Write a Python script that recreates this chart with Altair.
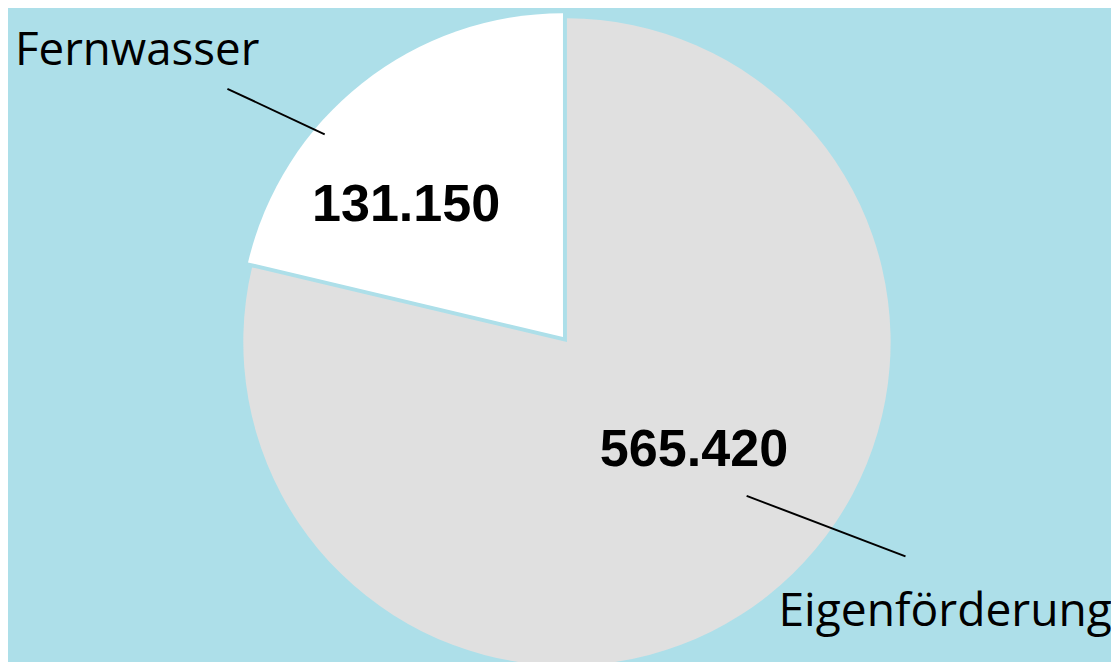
import altair as alt
import pandas as pd

categories = ["Eigenförderung", "Fernwasser"]
# slice shares as drawn in the picture (percent of the circle)
slice_shares = [78.7, 21.3]
value_labels = ["565.420", "131.150"]
colors = ["#e0e0e0", "#ffffff"]

df = pd.DataFrame({"cat": categories, "value": slice_shares, "label": value_labels, "order": [0, 1]})

base = alt.Chart(df).transform_joinaggregate(
    total="sum(value)"
).transform_window(
    cum="sum(value)", sort=[alt.SortField("order")], frame=[None, 0]
).transform_calculate(
    start="2*PI*(datum.cum - datum.value)/datum.total",
    end="2*PI*datum.cum/datum.total",
)

def slice_layer(cat, cx, cy):
    return base.transform_filter(alt.datum.cat == cat).mark_arc(radius=326).encode(
        theta=alt.Theta("start:Q", scale=None),
        theta2="end:Q",
        color=alt.Color("cat:N", scale=alt.Scale(domain=categories, range=colors), legend=None),
        x=alt.value(cx),
        y=alt.value(cy),
    )

gray = slice_layer("Eigenförderung", 563, 334)
white = slice_layer("Fernwasser", 559, 329)

def num_label(cat, x, y):
    return alt.Chart(df).transform_filter(alt.datum.cat == cat).mark_text(
        font="Liberation Sans", fontWeight="bold", fontSize=52.5, color="black",
        align="center", baseline="alphabetic"
    ).encode(text="label:N", x=alt.value(x), y=alt.value(y))

def name_label(cat, x, y, size):
    return alt.Chart(df).transform_filter(alt.datum.cat == cat).mark_text(
        font="Open Sans", fontSize=size, color="black", align="left", baseline="alphabetic"
    ).encode(text="cat:N", x=alt.value(x), y=alt.value(y))

def leader(x1, y1, x2, y2):
    return alt.Chart(df).transform_filter(alt.datum.order == 0).mark_rule(
        color="black", strokeWidth=2
    ).encode(x=alt.value(x1), y=alt.value(y1), x2=alt.value(x2), y2=alt.value(y2))

chart = alt.layer(
    gray, white,
    num_label("Fernwasser", 401, 212),
    num_label("Eigenförderung", 691, 459),
    name_label("Fernwasser", 7, 55, 46),
    name_label("Eigenförderung", 776, 620, 46.5),
    leader(221, 79, 319, 125),
    leader(744, 489, 904, 550),
).properties(
    width=1111, height=654, padding=0, background="#addfe9",
    autosize=alt.AutoSizeParams(type="none"),
).configure_view(stroke=None)

chart.save("out.html", embed_options={"renderer": "svg", "actions": False})
